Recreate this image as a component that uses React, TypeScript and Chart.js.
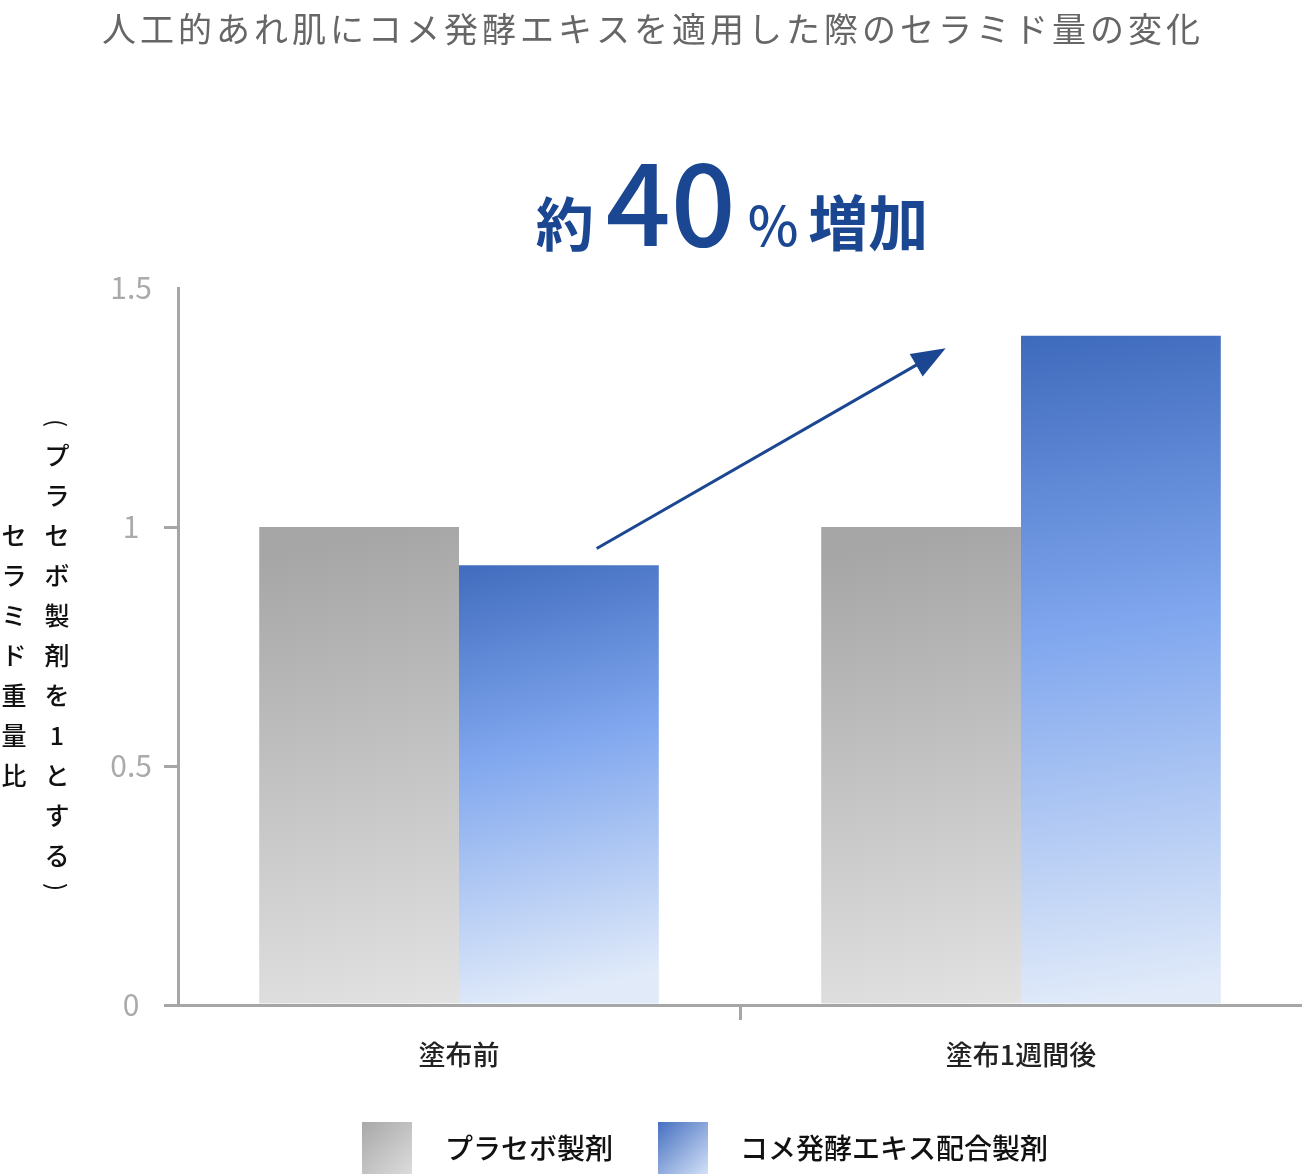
import React, { useEffect, useRef } from 'react';
import { Chart, registerables } from 'chart.js';

Chart.register(...registerables);

const categories = ['塗布前', '塗布1週間後'];
const placeboValues = [1.0, 1.0];
const riceValues = [0.92, 1.4];
const yTickValues = [0, 0.5, 1, 1.5];
const seriesLabels = ['プラセボ製剤', 'コメ発酵エキス配合製剤'];
const titleText = '人工的あれ肌にコメ発酵エキスを適用した際のセラミド量の変化';
const yTitleMain = 'セラミド重量比';
const yTitleSub = ['（', 'プ', 'ラ', 'セ', 'ボ', '製', '剤', 'を', '1', 'と', 'す', 'る', '）'];
const annotationParts = ['約', '40', '%', '増加'];

const FONT = '"Noto Sans CJK JP", "Noto Sans", sans-serif';
const W = 1302;
const H = 1174;
const NAVY = '#1b4692';
const AXIS = '#a6a6a6';

const GRAY_STOPS: [number, string][] = [
  [0, '#a6a6a6'],
  [1, '#e4e4e4'],
];
const BLUE_STOPS: [number, string][] = [
  [0, '#3d69bb'],
  [0.45, '#7fa6ee'],
  [1, '#e0eaf9'],
];

function barGradient(stops: [number, string][]) {
  return (ctx: any) => {
    const chart = ctx.chart;
    if (ctx.type !== 'data' || !chart.chartArea) return stops[0][1];
    const xs = chart.scales.x;
    const ys = chart.scales.y;
    const top = ys.getPixelForValue(ctx.raw);
    const bottom = ys.getPixelForValue(0);
    const cx = xs.getPixelForValue(ctx.dataIndex);
    const g = chart.ctx.createLinearGradient(cx - 50, top, cx + 50, bottom);
    stops.forEach(([o, c]) => g.addColorStop(o, c));
    return g;
  };
}

const decorPlugin = {
  id: 'decor',
  afterDraw(chart: any) {
    const ctx: CanvasRenderingContext2D = chart.ctx;
    const xs = chart.scales.x;
    const ys = chart.scales.y;
    ctx.save();

    // Title
    ctx.fillStyle = '#666666';
    ctx.font = `400 34px ${FONT}`;
    ctx.textAlign = 'center';
    ctx.textBaseline = 'middle';
    try { (ctx as any).letterSpacing = '4px'; } catch (e) {}
    ctx.fillText(titleText, W / 2 + 2, 29);
    try { (ctx as any).letterSpacing = '0px'; } catch (e) {}

    // Annotation "約40%増加"
    const fonts = [
      `700 58px ${FONT}`,
      `500 114px ${FONT}`,
      `500 54px ${FONT}`,
      `700 60px ${FONT}`,
    ];
    const gaps = [12, 12, 10, 0];
    let total = 0;
    const widths = annotationParts.map((p, i) => {
      ctx.font = fonts[i];
      const w = ctx.measureText(p).width;
      total += w + gaps[i];
      return w;
    });
    let ax = 732 - total / 2;
    ctx.fillStyle = NAVY;
    ctx.textAlign = 'left';
    ctx.textBaseline = 'alphabetic';
    annotationParts.forEach((p, i) => {
      ctx.font = fonts[i];
      ctx.fillText(p, ax, 246);
      ax += widths[i] + gaps[i];
    });

    // Arrow
    const x0 = xs.getPixelForValue(0.245);
    const y0 = ys.getPixelForValue(0.955);
    const x1 = xs.getPixelForValue(0.866);
    const y1 = ys.getPixelForValue(1.374);
    const dx = x1 - x0;
    const dy = y1 - y0;
    const len = Math.hypot(dx, dy);
    const ux = dx / len;
    const uy = dy / len;
    const headLen = 34;
    const headHalf = 13;
    const bx = x1 - ux * headLen;
    const by = y1 - uy * headLen;
    ctx.strokeStyle = NAVY;
    ctx.lineWidth = 3;
    ctx.beginPath();
    ctx.moveTo(x0, y0);
    ctx.lineTo(bx + ux * 4, by + uy * 4);
    ctx.stroke();
    ctx.fillStyle = NAVY;
    ctx.beginPath();
    ctx.moveTo(x1, y1);
    ctx.lineTo(bx - uy * headHalf, by + ux * headHalf);
    ctx.lineTo(bx + uy * headHalf, by - ux * headHalf);
    ctx.closePath();
    ctx.fill();

    // Vertical y-axis titles
    ctx.fillStyle = '#111111';
    ctx.font = `500 25px ${FONT}`;
    ctx.textAlign = 'center';
    ctx.textBaseline = 'middle';
    Array.from(yTitleMain).forEach((ch, i) => {
      ctx.fillText(ch, 14, 535 + i * 40);
    });
    let yy = 423;
    yTitleSub.forEach((ch, i) => {
      if (ch === '（' || ch === '）') {
        ctx.save();
        ctx.translate(57, yy);
        ctx.rotate(Math.PI / 2);
        ctx.font = `400 24px ${FONT}`;
        ctx.fillText(ch === '（' ? '(' : ')', 0, 0);
        ctx.restore();
      } else {
        ctx.fillText(ch, 57, yy);
      }
      const next = yTitleSub[i + 1];
      yy += ch === '（' || next === '）' ? 32 : 40;
    });

    // Legend
    const legendItems = [
      { x: 362, tx: 445, stops: [[0, '#a8a8a8'], [1, '#dcdcdc']] as [number, string][] },
      { x: 658, tx: 740, stops: [[0, '#4670c0'], [1, '#d3e1f7']] as [number, string][] },
    ];
    legendItems.forEach((it, i) => {
      const g = ctx.createLinearGradient(it.x, 1122, it.x + 50, 1174);
      it.stops.forEach(([o, c]) => g.addColorStop(o, c));
      ctx.fillStyle = g;
      ctx.fillRect(it.x, 1122, 50, 52);
      ctx.fillStyle = '#111111';
      ctx.font = `500 28px ${FONT}`;
      ctx.textAlign = 'left';
      ctx.textBaseline = 'middle';
      ctx.fillText(seriesLabels[i], it.tx, 1148);
    });

    ctx.restore();
  },
};

export default function App() {
  const ref = useRef<HTMLCanvasElement | null>(null);

  useEffect(() => {
    document.body.style.margin = '0';
    document.documentElement.style.overflow = 'hidden';
    const canvas = ref.current;
    if (!canvas) return;
    const chart = new Chart(canvas, {
      type: 'bar',
      data: {
        labels: categories,
        datasets: [
          {
            label: seriesLabels[0],
            data: placeboValues,
            backgroundColor: barGradient(GRAY_STOPS),
            borderWidth: 0,
            barPercentage: 1,
            categoryPercentage: 0.711,
          },
          {
            label: seriesLabels[1],
            data: riceValues,
            backgroundColor: barGradient(BLUE_STOPS),
            borderWidth: 0,
            barPercentage: 1,
            categoryPercentage: 0.711,
          },
        ],
      },
      options: {
        responsive: false,
        animation: false,
        devicePixelRatio: 1,
        layout: { padding: { top: 288, right: -1, bottom: 0, left: 0 } },
        plugins: {
          legend: { display: false },
          title: { display: false },
          tooltip: { enabled: false },
        },
        scales: {
          x: {
            grid: {
              offset: true,
              drawOnChartArea: false,
              drawTicks: true,
              tickLength: 15,
              lineWidth: 3,
              color: (c: any) => (c.index === 1 ? AXIS : 'rgba(0,0,0,0)'),
            },
            border: { display: true, color: AXIS, width: 3 },
            ticks: {
              color: '#222222',
              font: { family: FONT, size: 27, weight: '500' },
              padding: 19,
            },
            afterFit: (s: any) => {
              s.height = H - 1005;
            },
          },
          y: {
            min: 0,
            max: 1.5,
            afterBuildTicks: (s: any) => {
              s.ticks = yTickValues.map((v) => ({ value: v }));
            },
            grid: {
              drawOnChartArea: false,
              drawTicks: true,
              tickLength: 14,
              lineWidth: 3,
              color: (c: any) => (c.tick && c.tick.value === 1.5 ? 'rgba(0,0,0,0)' : AXIS),
            },
            border: { display: true, color: AXIS, width: 3 },
            ticks: {
              color: '#aaaaaa',
              font: { family: FONT, size: 30, weight: '400' },
              padding: 12,
              crossAlign: 'center',
              callback: (v: any) => String(v),
            },
            afterFit: (s: any) => {
              s.width = 178;
            },
          },
        },
      },
      plugins: [decorPlugin],
    } as any);
    return () => chart.destroy();
  }, []);

  return (
    <canvas
      ref={ref}
      width={W}
      height={H}
      style={{ display: 'block', width: W, height: H }}
    />
  );
}
